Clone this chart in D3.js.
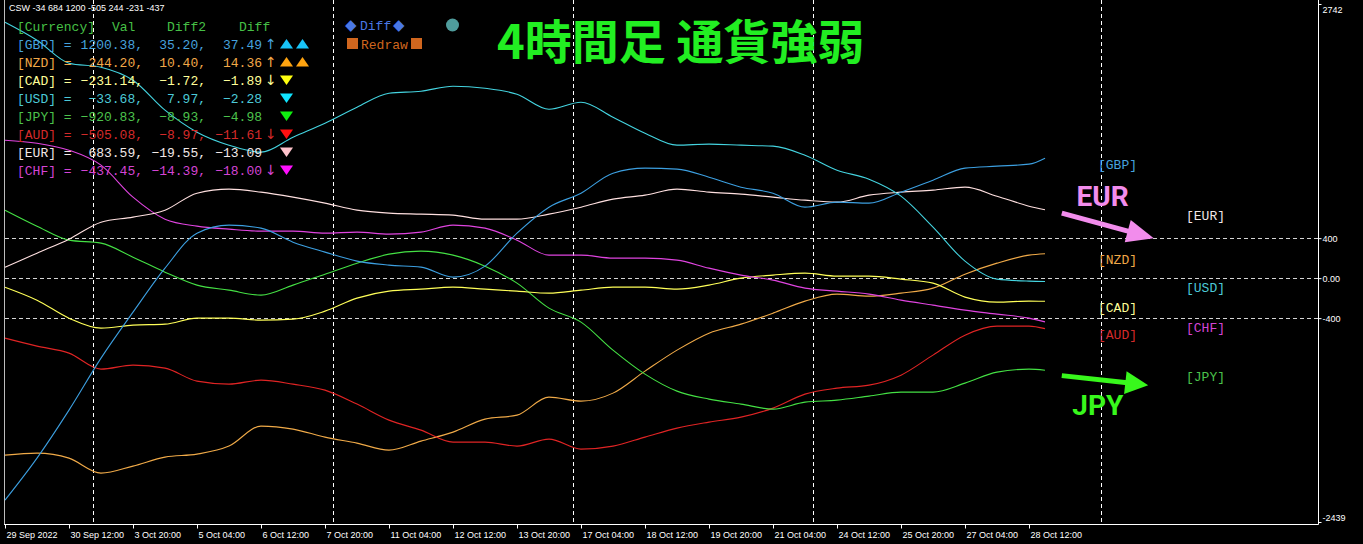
<!DOCTYPE html>
<html>
<head>
<meta charset="utf-8">
<script src="https://cdn.jsdelivr.net/npm/d3@7"></script>
<style>
  html, body { margin: 0; padding: 0; background: #000; overflow: hidden; }
  svg { display: block; }
</style>
</head>
<body>
<svg id="chart" width="1363" height="544"></svg>
<script>
// ---- Currency strength (4H) data ----------------------------------------
const currencies = ["GBP", "NZD", "CAD", "USD", "JPY", "AUD", "EUR", "CHF"];

// bar index of each sampled point (4-hour bars, oldest = 0)
const sampleBars = [0, 4, 8, 12, 16, 20, 24, 28, 32, 36, 40, 44, 48, 52, 56, 60, 64,
                    68, 72, 76, 80, 84, 88, 92, 96, 100, 104, 108, 112, 116, 120, 124, 128, 130];

const gbpValues = [-2220, -1800, -1320, -800, -340, 100, 450, 530, 500, 360, 260, 170, 130, 110, 10, 120, 450,
                   710, 850, 1050, 1100, 1090, 1010, 910, 850, 710, 760, 750, 860, 980, 1100, 1120, 1140, 1200.38];
const nzdValues = [-1770, -1750, -1800, -1950, -1880, -1790, -1760, -1680, -1480, -1510, -1590, -1650, -1720, -1630, -1540, -1410, -1370,
                   -1190, -1230, -1150, -930, -720, -550, -460, -350, -230, -160, -180, -150, -100, 40, 150, 230, 244.20];
const cadValues = [-90, -220, -400, -500, -470, -460, -400, -400, -420, -410, -330, -200, -130, -110, -90, -110, -130,
                   -150, -120, -90, -90, -110, -70, 0, 30, 50, 20, 20, -10, -50, -190, -240, -230, -231.14];
const usdValues = [2560, 2380, 2150, 2110, 1980, 1680, 1460, 1330, 1260, 1410, 1550, 1710, 1850, 1870, 1920, 1900, 1840,
                   1690, 1760, 1610, 1450, 1330, 1340, 1330, 1320, 1230, 1080, 990, 820, 510, 170, -10, -30, -33.68];
const jpyValues = [680, 520, 380, 350, 210, 60, -70, -120, -170, -70, 40, 150, 240, 270, 230, 120, -50,
                   -300, -440, -720, -960, -1130, -1210, -1260, -1310, -1240, -1220, -1180, -1140, -1140, -1050, -940, -910, -920.83];
const audValues = [-600, -680, -750, -910, -870, -900, -1030, -1060, -1020, -1060, -1120, -1260, -1420, -1520, -1640, -1640, -1680,
                   -1610, -1710, -1680, -1590, -1500, -1440, -1390, -1300, -1160, -1100, -1070, -970, -770, -570, -480, -480, -505.08];
const eurValues = [110, 250, 390, 560, 610, 680, 850, 890, 860, 810, 750, 680, 650, 640, 630, 590, 590,
                   640, 710, 790, 830, 890, 860, 840, 810, 780, 760, 830, 860, 880, 910, 820, 720, 683.59];
const chfValues = [1380, 1350, 1280, 1130, 810, 590, 520, 490, 470, 470, 450, 460, 440, 460, 530, 500, 380,
                   230, 230, 200, 200, 180, 100, 30, -20, -100, -130, -160, -220, -270, -320, -360, -400, -437.45];

// panel values: Diff2 and Diff columns, direction arrows, and signal triangles
const diff2Values = [35.20, 10.40, -1.72, 7.97, -8.93, -8.97, -19.55, -14.39];
const diffValues  = [37.49, 14.36, -1.89, -2.28, -4.98, -11.61, -13.09, -18.00];
const arrowMarks  = ["↑", "↑", "↓", "", "", "↓", "", "↓"];
const signalMarks = [["up", "up"], ["up", "up"], ["down"], ["down"], ["down"], ["down"], ["down"], ["down"]];

// time axis
const timeLabels = ["29 Sep 2022", "30 Sep 12:00", "3 Oct 20:00", "5 Oct 04:00", "6 Oct 12:00", "7 Oct 20:00",
                    "11 Oct 04:00", "12 Oct 12:00", "13 Oct 20:00", "17 Oct 04:00", "18 Oct 12:00", "19 Oct 20:00",
                    "21 Oct 04:00", "24 Oct 12:00", "25 Oct 20:00", "27 Oct 04:00", "28 Oct 12:00"];
const timeLabelBars = [0, 8, 16, 24, 32, 40, 48, 56, 64, 72, 80, 88, 96, 104, 112, 120, 128];
const periodSeparatorBars = [11, 41, 71, 101, 137];

// price axis
const priceTicks = [2742, 400, 0, -400, -2439];
const levelLines = [400, 0, -400];

// ---- styling --------------------------------------------------------------
const lineColors = {
  GBP: "#3c9fe0", NZD: "#f0aa48", CAD: "#ffff58", USD: "#44d4e0",
  JPY: "#44e044", AUD: "#e02424", EUR: "#ffe0e0", CHF: "#e044e0"
};
const textColors = {
  GBP: "#46a2de", NZD: "#f2a848", CAD: "#ffff98", USD: "#4ccad8",
  JPY: "#4cc24c", AUD: "#d42a2a", EUR: "#f2e8e8", CHF: "#d444d4"
};
const signalColors = {
  GBP: "#18c4f8", NZD: "#ffa410", CAD: "#ffff10", USD: "#10e4ff",
  JPY: "#10f010", AUD: "#ff1010", EUR: "#ffc4cc", CHF: "#ff10ff"
};

const seriesByCode = {
  GBP: gbpValues, NZD: nzdValues, CAD: cadValues, USD: usdValues,
  JPY: jpyValues, AUD: audValues, EUR: eurValues, CHF: chfValues
};

const W = 1363, H = 544;
const plotLeft = 5, plotRight = 1318, plotTop = 4, plotBottom = 522, frameBottom = 524;
const visibleBars = 164.125;

const x = d3.scaleLinear().domain([0, visibleBars]).range([plotLeft, plotRight]);
const y = d3.scaleLinear().domain([priceTicks[priceTicks.length - 1], priceTicks[0]]).range([plotBottom, plotTop]);

const MONO = "'Liberation Mono', 'DejaVu Sans Mono', monospace";
const SANS = "'Liberation Sans', 'DejaVu Sans', sans-serif";

const svg = d3.select("#chart");
svg.append("rect").attr("width", W).attr("height", H).attr("fill", "#000");

// ---- grid -----------------------------------------------------------------
const grid = svg.append("g");
grid.selectAll("line.level").data(levelLines).join("line")
  .attr("class", "level")
  .attr("x1", plotLeft).attr("x2", plotRight)
  .attr("y1", d => Math.round(y(d)) + 0.5).attr("y2", d => Math.round(y(d)) + 0.5)
  .attr("stroke", "#d4d4d4").attr("stroke-width", 1).attr("stroke-dasharray", "4,3");

grid.selectAll("line.sep").data(periodSeparatorBars).join("line")
  .attr("class", "sep")
  .attr("x1", d => Math.round(x(d)) + 0.5).attr("x2", d => Math.round(x(d)) + 0.5)
  .attr("y1", 0).attr("y2", frameBottom)
  .attr("stroke", "#ffffff").attr("stroke-width", 1).attr("stroke-dasharray", "4,3");

// ---- series lines -----------------------------------------------------------
const lineGen = d3.line()
  .x((d, i) => x(sampleBars[i]))
  .y(d => y(d))
  .curve(d3.curveMonotoneX);

const drawOrder = ["NZD", "AUD", "JPY", "CAD", "CHF", "EUR", "GBP", "USD"];
svg.append("g").selectAll("path").data(drawOrder).join("path")
  .attr("d", c => lineGen(seriesByCode[c]))
  .attr("fill", "none")
  .attr("stroke", c => lineColors[c])
  .attr("stroke-width", 1.1);

// ---- frame ------------------------------------------------------------------
const frame = svg.append("g").attr("stroke", "#ffffff").attr("stroke-width", 1);
frame.append("line").attr("x1", plotRight + 0.5).attr("x2", plotRight + 0.5).attr("y1", 0).attr("y2", frameBottom + 0.5);
frame.append("line").attr("x1", plotLeft - 1).attr("x2", plotRight + 0.5).attr("y1", frameBottom + 0.5).attr("y2", frameBottom + 0.5);
frame.append("line").attr("x1", plotLeft - 0.5).attr("x2", plotLeft - 0.5).attr("y1", 0).attr("y2", frameBottom)
  .attr("stroke", "#bdbdbd");

// ---- price axis (right) -----------------------------------------------------
const yAxis = d3.axisRight(y)
  .tickValues(priceTicks)
  .tickSize(3)
  .tickFormat(d => d === 0 ? "0.00" : String(d));
const yAxisG = svg.append("g")
  .attr("transform", `translate(${plotRight + 0.5},0)`)
  .call(yAxis);
yAxisG.select(".domain").remove();
yAxisG.selectAll(".tick line").attr("stroke", "#ffffff");
yAxisG.selectAll(".tick text")
  .attr("x", 4)
  .attr("fill", "#ffffff")
  .attr("font-family", SANS)
  .attr("font-size", 9)
  .attr("dy", d => d === priceTicks[0] ? "0.95em" : (d === priceTicks[priceTicks.length - 1] ? "-0.2em" : "0.34em"));

// ---- time axis (bottom) -----------------------------------------------------
const xAxis = d3.axisBottom(x)
  .tickValues(timeLabelBars)
  .tickSize(4)
  .tickSizeOuter(0)
  .tickFormat((d, i) => timeLabels[i]);
const xAxisG = svg.append("g")
  .attr("transform", `translate(0,${frameBottom + 0.5})`)
  .call(xAxis);
xAxisG.select(".domain").remove();
xAxisG.selectAll(".tick line").attr("stroke", "#ffffff");
xAxisG.selectAll(".tick text")
  .attr("text-anchor", "start")
  .attr("x", 1)
  .attr("y", 7)
  .attr("fill", "#ffffff")
  .attr("font-family", SANS)
  .attr("font-size", 9);

// ---- header line ------------------------------------------------------------
svg.append("text")
  .attr("x", 9).attr("y", 11)
  .attr("fill", "#ffffff").attr("font-family", SANS).attr("font-size", 9)
  .text("CSW " + ["USD", "EUR", "GBP", "AUD", "NZD", "CAD", "CHF"]
    .map(c => Math.round(seriesByCode[c][seriesByCode[c].length - 1])).join(" "));

// ---- strength panel -------------------------------------------------------
const panel = svg.append("g").attr("font-family", MONO).attr("font-size", 13);
const rowY = i => 26 + 18 * i;
const fmt = d3.format(".2f");

const header = panel.append("g").attr("fill", "#46c046");
header.append("text").attr("x", 17).attr("y", rowY(0)).attr("dy", "0.35em").text("[Currency]");
header.append("text").attr("x", 112).attr("y", rowY(0)).attr("dy", "0.35em").text("Val");
header.append("text").attr("x", 167).attr("y", rowY(0)).attr("dy", "0.35em").text("Diff2");
header.append("text").attr("x", 239).attr("y", rowY(0)).attr("dy", "0.35em").text("Diff");

const rows = panel.selectAll("g.row").data(currencies).join("g")
  .attr("class", "row")
  .attr("fill", c => textColors[c])
  .attr("transform", (c, i) => `translate(0,${rowY(i + 1)})`);
rows.append("text").attr("x", 17).attr("dy", "0.35em").text(c => `[${c}] =`);
rows.append("text").attr("x", 143).attr("text-anchor", "end").attr("dy", "0.35em")
  .text(c => fmt(seriesByCode[c][seriesByCode[c].length - 1]) + ",");
rows.append("text").attr("x", 206).attr("text-anchor", "end").attr("dy", "0.35em")
  .text((c, i) => fmt(diff2Values[i]) + ",");
rows.append("text").attr("x", 262).attr("text-anchor", "end").attr("dy", "0.35em")
  .text((c, i) => fmt(diffValues[i]));
rows.append("text").attr("x", 265).attr("dy", "0.36em")
  .attr("font-family", "'DejaVu Sans', sans-serif").attr("font-size", 14)
  .text((c, i) => arrowMarks[i]);
rows.each(function (c, i) {
  d3.select(this).selectAll("path.sig").data(signalMarks[i]).join("path")
    .attr("class", "sig")
    .attr("fill", signalColors[c])
    .attr("d", (dir, k) => {
      const cx = 286.5 + k * 16;
      return dir === "up"
        ? `M${cx - 6.5},4.5 L${cx + 6.5},4.5 L${cx},-5 Z`
        : `M${cx - 6.5},-4.5 L${cx + 6.5},-4.5 L${cx},5 Z`;
    });
});

// Diff / Redraw buttons
const buttons = svg.append("g").attr("font-family", MONO).attr("font-size", 13);
buttons.append("text").attr("x", 345).attr("y", 25).attr("dy", "0.36em").attr("fill", "#4a78e6")
  .attr("font-family", "'DejaVu Sans', sans-serif").attr("font-size", 15).text("◆");
buttons.append("text").attr("x", 360).attr("y", 25).attr("dy", "0.35em").attr("fill", "#4a78e6").text("Diff");
buttons.append("text").attr("x", 393).attr("y", 25).attr("dy", "0.36em").attr("fill", "#4a78e6")
  .attr("font-family", "'DejaVu Sans', sans-serif").attr("font-size", 15).text("◆");
buttons.append("circle").attr("cx", 452.5).attr("cy", 25).attr("r", 6.5).attr("fill", "#4f9c9c");
buttons.append("rect").attr("x", 347).attr("y", 38).attr("width", 11).attr("height", 11).attr("fill", "#d0661e");
buttons.append("text").attr("x", 361).attr("y", 44).attr("dy", "0.35em").attr("fill", "#d0661e").text("Redraw");
buttons.append("rect").attr("x", 411).attr("y", 38).attr("width", 11).attr("height", 11).attr("fill", "#d0661e");

// ---- title ----------------------------------------------------------------
svg.append("text")
  .attr("x", 497).attr("y", 59)
  .attr("fill", "#22ee22")
  .attr("font-family", "'Noto Sans CJK JP', 'Noto Sans CJK SC', sans-serif")
  .attr("font-weight", 700)
  .attr("font-size", 47)
  .text("4時間足 通貨強弱");

// ---- end-of-series labels -------------------------------------------------
const ranked = currencies.slice().sort((a, b) =>
  seriesByCode[b][seriesByCode[b].length - 1] - seriesByCode[a][seriesByCode[a].length - 1]);
const labelColumnBars = [137, 148];
svg.append("g").attr("font-family", MONO).attr("font-size", 13)
  .selectAll("text").data(ranked).join("text")
  .attr("x", (c, i) => x(labelColumnBars[i % 2]) - 3)
  .attr("y", c => y(seriesByCode[c][seriesByCode[c].length - 1]))
  .attr("dy", "0.8em")
  .attr("fill", c => textColors[c])
  .text(c => `[${c}]`);

// ---- callouts ---------------------------------------------------------------
const callouts = [
  { text: "EUR", color: "#f28cec", textBar: 137.2, textValue: 720,
    from: [132.1, 650], to: [143.6, 400], head: 27, half: 11.5 },
  { text: "JPY", color: "#38f81c", textBar: 136.6, textValue: -1370,
    from: [132.1, -975], to: [142.9, -1070], head: 23, half: 11.5 }
];
const co = svg.append("g");
callouts.forEach(c => {
  const x0 = x(c.from[0]), y0 = y(c.from[1]);
  const x1 = x(c.to[0]), y1 = y(c.to[1]);
  const ang = Math.atan2(y1 - y0, x1 - x0);
  const ux = Math.cos(ang), uy = Math.sin(ang);
  const bx = x1 - ux * c.head, by = y1 - uy * c.head;
  co.append("line")
    .attr("x1", x0).attr("y1", y0).attr("x2", bx + ux * 2).attr("y2", by + uy * 2)
    .attr("stroke", c.color).attr("stroke-width", 5);
  co.append("path")
    .attr("d", `M${x1},${y1} L${bx - uy * c.half},${by + ux * c.half} L${bx + uy * c.half},${by - ux * c.half} Z`)
    .attr("fill", c.color);
  co.append("text")
    .attr("x", x(c.textBar)).attr("y", y(c.textValue))
    .attr("text-anchor", "middle")
    .attr("fill", c.color)
    .attr("font-family", "Roboto, 'Liberation Sans', sans-serif")
    .attr("font-weight", 700)
    .attr("font-size", 28)
    .text(c.text);
});
</script>
</body>
</html>
